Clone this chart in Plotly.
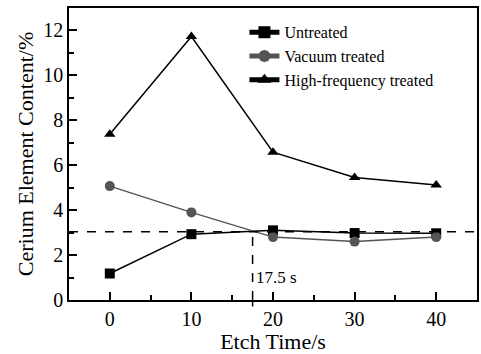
import plotly.graph_objects as go

etch_time = [0, 10, 20, 30, 40]
untreated = [1.18, 2.93, 3.10, 2.98, 2.97]
vacuum = [5.07, 3.90, 2.80, 2.60, 2.80]
high_freq = [7.38, 11.73, 6.58, 5.45, 5.12]
threshold_y = 3.04
threshold_x = 17.5
x_ticks = [0, 10, 20, 30, 40]
y_ticks = [0, 2, 4, 6, 8, 10, 12]

FONT = "Times New Roman, Liberation Serif, DejaVu Serif, serif"

fig = go.Figure()
fig.add_trace(go.Scatter(x=etch_time, y=untreated, mode="lines+markers", name="Untreated",
                         line=dict(color="black", width=1.5),
                         marker=dict(symbol="square", size=10, color="black")))
fig.add_trace(go.Scatter(x=etch_time, y=vacuum, mode="lines+markers", name="Vacuum treated",
                         line=dict(color="#555555", width=1.5),
                         marker=dict(symbol="circle", size=10, color="#555555")))
fig.add_trace(go.Scatter(x=etch_time, y=high_freq, mode="lines+markers", name="High-frequency treated",
                         line=dict(color="black", width=1.5),
                         marker=dict(symbol="triangle-up", size=10, color="black")))

fig.add_shape(type="line", xref="paper", yref="y", x0=0, x1=1, y0=threshold_y, y1=threshold_y,
              line=dict(color="black", width=1.5, dash="dash"))
fig.add_shape(type="line", xref="x", yref="y", x0=threshold_x, x1=threshold_x, y0=0, y1=threshold_y,
              line=dict(color="black", width=1.5, dash="dash"))
fig.add_shape(type="line", xref="x", yref="paper", x0=threshold_x, x1=threshold_x, y0=-0.022, y1=0,
              line=dict(color="black", width=1.5))
fig.add_annotation(x=threshold_x, y=1.0, xref="x", yref="y", text="17.5 s", showarrow=False,
                   xanchor="left", yanchor="middle", xshift=1,
                   font=dict(family=FONT, size=17, color="black"))

axis_common = dict(showline=True, linecolor="black", linewidth=1.5, mirror=True,
                   ticks="inside", ticklen=8, tickwidth=1.5, tickcolor="black",
                   showgrid=False, zeroline=False,
                   tickfont=dict(family=FONT, size=20, color="black"),
                   title_font=dict(family=FONT, size=22, color="black"))

fig.update_xaxes(range=[-5, 45], tickvals=x_ticks, title_text="Etch Time/s", title_standoff=2,
                 minor=dict(ticks="inside", ticklen=5, tickwidth=1.5, tickcolor="black", dtick=5, tick0=5),
                 **axis_common)
fig.update_yaxes(range=[0, 13], tickvals=y_ticks, title_text="Cerium Element Content/%", title_standoff=4,
                 minor=dict(ticks="inside", ticklen=5, tickwidth=1.5, tickcolor="black", dtick=1, tick0=1),
                 **axis_common)

fig.update_layout(
    width=481, height=354,
    margin=dict(l=69, r=2, t=8, b=54),
    plot_bgcolor="white", paper_bgcolor="white",
    showlegend=True,
    legend=dict(x=0.43, y=0.975, xanchor="left", yanchor="top",
                bgcolor="rgba(0,0,0,0)", borderwidth=0,
                font=dict(family=FONT, size=16, color="black"),
                tracegroupgap=0, itemsizing="constant"),
    font=dict(family=FONT, color="black"),
)

fig.write_html("out.html")
